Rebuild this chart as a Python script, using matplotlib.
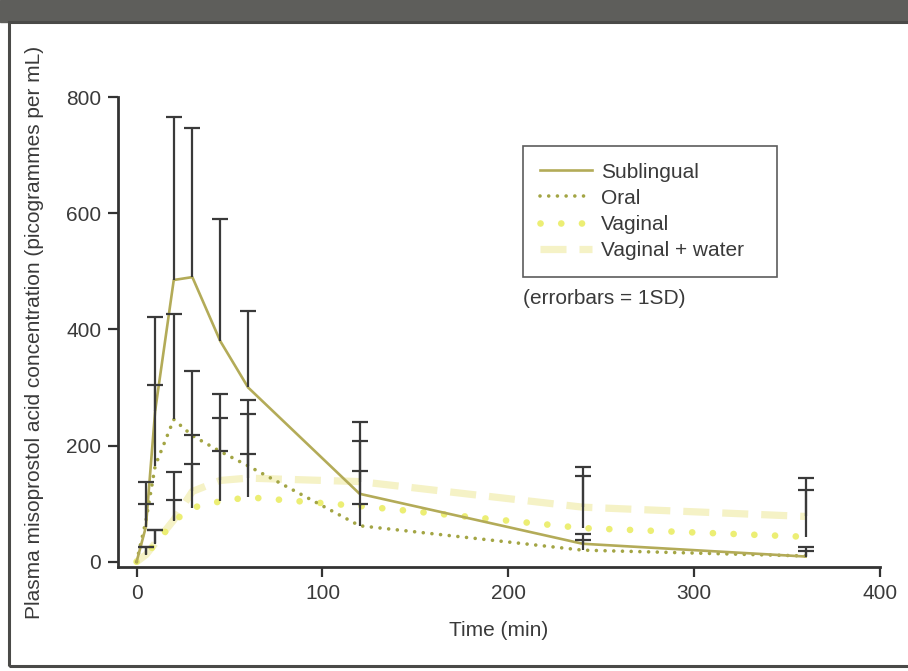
import matplotlib
matplotlib.use('Agg')
import matplotlib.pyplot as plt
from matplotlib.patches import Rectangle
from matplotlib.lines import Line2D
import numpy as np

# sampling times (min)
time_min = [0, 5, 10, 20, 30, 45, 60, 120, 240, 360]

# mean concentrations (pg/mL)
sublingual = [0, 60, 260, 485, 490, 380, 300, 117, 31, 9]
oral = [0, 70, 165, 245, 217, 190, 165, 62, 20, 10]
vaginal = [0, 13, 30, 70, 93, 104, 111, 96, 58, 43]
vaginal_water = [0, 12, 32, 72, 121, 140, 144, 138, 94, 78]

# top of each 1SD error bar
sublingual_top = [0, 137, 422, 765, 747, 590, 432, 240, 48, 26]
oral_top = [0, 100, 304, 426, 329, 288, 278, 99, 38, 18]
vaginal_top = [0, 26, 55, 106, 169, 190, 186, 157, 147, 124]
vaginal_water_top = [0, 26, 55, 155, 219, 247, 255, 208, 163, 145]

labels = ['Sublingual', 'Oral', 'Vaginal', 'Vaginal + water']

plt.rcParams['font.family'] = ['Liberation Sans', 'DejaVu Sans']

W, H = 908, 671
fig = plt.figure(figsize=(W / 100, H / 100), dpi=100)
fig.patch.set_facecolor('white')

# dark header band and frame
fig.patches.append(Rectangle((0, 1 - 22 / H), 1, 22 / H, transform=fig.transFigure,
                             color='#5e5e5b', zorder=0))
fig.patches.append(Rectangle((9 / W, 5 / H), 1, 1 - 27 / H, transform=fig.transFigure,
                             fill=False, edgecolor='#4a4a48', lw=2.2, zorder=0))

ax = fig.add_axes([118 / W, 1 - 567 / H, (880 - 118) / W, (567 - 97) / H])
ax.set_xlim(-10, 400)
ax.set_ylim(-9, 800)

c_sub = '#b3ab58'
c_oral = '#a3a544'
c_vag = '#ecee74'
c_vw = '#f5f2c6'

ax.plot(time_min, vaginal_water, color=c_vw, lw=5.2, linestyle=(0, (3.6, 1.8)),
        solid_capstyle='butt', dash_capstyle='butt', zorder=2)
ax.plot(time_min, vaginal, color=c_vag, lw=4.8, linestyle=(0, (0.01, 3.1)),
        dash_capstyle='round', zorder=2)
ax.plot(time_min, oral, color=c_oral, lw=2.6, linestyle=(0, (0.01, 2.4)),
        dash_capstyle='round', zorder=3)
ax.plot(time_min, sublingual, color=c_sub, lw=1.9, zorder=3)

# upward 1SD error bars
means = [sublingual, oral, vaginal, vaginal_water]
tops = [sublingual_top, oral_top, vaginal_top, vaginal_water_top]
for m, t in zip(means, tops):
    m = np.array(m, dtype=float)
    t = np.array(t, dtype=float)
    keep = t > m
    tt = np.array(time_min)[keep]
    ax.vlines(tt, m[keep], t[keep], color='#3a3a3a', lw=1.6, zorder=4)
    ax.scatter(tt, t[keep], marker='_', s=120, color='#3a3a3a', linewidths=1.6, zorder=4)

ax.spines['top'].set_visible(False)
ax.spines['right'].set_visible(False)
for s in ['left', 'bottom']:
    ax.spines[s].set_linewidth(2)
    ax.spines[s].set_color('#333333')

ax.set_xticks([0, 100, 200, 300, 400])
ax.set_yticks([0, 200, 400, 600, 800])
ax.tick_params(direction='out', length=7, width=1.6, colors='#333333',
               labelsize=15, labelcolor='#3a3a3a', pad=5)

ax.set_xlabel('Time (min)', fontsize=15, color='#3a3a3a', labelpad=13)
ax.set_ylabel('Plasma misoprostol acid concentration (picogrammes per mL)',
              fontsize=15, color='#3a3a3a', labelpad=16)

handles = [
    Line2D([], [], color=c_sub, lw=1.9),
    Line2D([], [], color=c_oral, lw=2.6, linestyle=(0, (0.01, 2.4)), dash_capstyle='round'),
    Line2D([], [], color=c_vag, lw=4.8, linestyle=(0, (0.01, 3.1)), dash_capstyle='round'),
    Line2D([], [], color=c_vw, lw=5.2, linestyle=(0, (3.6, 1.8)), dash_capstyle='butt'),
]
leg = ax.legend(handles, labels, loc='upper left', mode='expand',
                bbox_to_anchor=(523 / W, 1 - 280 / H, 254 / W, 134 / H),
                bbox_transform=fig.transFigure,
                fontsize=15, frameon=True, fancybox=False, handlelength=2.5,
                handletextpad=0.45, labelspacing=0.34, borderpad=0.8,
                borderaxespad=0)
leg.get_frame().set_edgecolor('#333333')
leg.get_frame().set_linewidth(1.2)
for txt in leg.get_texts():
    txt.set_color('#3a3a3a')

fig.text(523 / W, 1 - 298 / H, '(errorbars = 1SD)', fontsize=15, color='#3a3a3a',
         va='center', ha='left')

fig.savefig('out.png', dpi=100)
